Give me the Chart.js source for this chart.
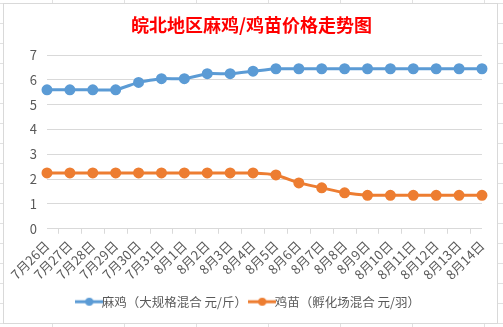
<!DOCTYPE html>
<html lang="zh">
<head>
<meta charset="UTF-8">
<title>皖北地区麻鸡/鸡苗价格走势图</title>
<script src="https://cdn.jsdelivr.net/npm/chart.js"></script>
<style>
html, body {
	margin: 0;
	padding: 0;
	width: 503px;
	height: 327px;
	overflow: hidden;
	background-color: #fff;
	background-image:
		linear-gradient(to right, #e1e1e1 1px, transparent 1px),
		linear-gradient(to bottom, #e1e1e1 1px, transparent 1px);
	background-size: 72px 20px;
	background-position: 52px 3px;
}

.chartBox {
	position: absolute;
	left: 3px;
	top: 3px;
	width: 493px;
	height: 319px;
	border: 1px solid #d9d9d9;
	background: #fff;
}
</style>
</head>
<body>
	<div class="chartBox">
		<canvas id="priceChart" width="493" height="319"></canvas>
	</div>
	<script>
		const ngay = ['7月26日', '7月27日', '7月28日', '7月29日', '7月30日', '7月31日',
			'8月1日', '8月2日', '8月3日', '8月4日', '8月5日', '8月6日', '8月7日',
			'8月8日', '8月9日', '8月10日', '8月11日', '8月12日', '8月13日', '8月14日'];
		const maJi = [5.6, 5.6, 5.6, 5.6, 5.9, 6.05, 6.05, 6.25, 6.25, 6.35,
			6.45, 6.45, 6.45, 6.45, 6.45, 6.45, 6.45, 6.45, 6.45, 6.45];
		const jiMiao = [2.25, 2.25, 2.25, 2.25, 2.25, 2.25, 2.25, 2.25, 2.25, 2.25,
			2.17, 1.85, 1.65, 1.45, 1.35, 1.35, 1.35, 1.35, 1.35, 1.35];
		const yTicks = [0, 1, 2, 3, 4, 5, 6, 7];

		const fontFamily = '"Noto Sans CJK SC", "Noto Sans", sans-serif';

		// legend marker: short line with a dot in the middle, like Excel
		function legendMarker(color) {
			const c = document.createElement('canvas');
			c.width = 28;
			c.height = 10;
			const g = c.getContext('2d');
			g.strokeStyle = color;
			g.lineWidth = 3;
			g.beginPath();
			g.moveTo(0, 5);
			g.lineTo(28, 5);
			g.stroke();
			g.fillStyle = color;
			g.beginPath();
			g.arc(14, 5, 4, 0, Math.PI * 2);
			g.fill();
			return c;
		}

		const ctx = document.getElementById('priceChart').getContext('2d');
		const myChart = new Chart(ctx, {
			type: 'line',
			data: {
				labels: ngay,
				datasets: [{
					label: '麻鸡（大规格混合 元/斤）',
					data: maJi,
					borderColor: '#5b9bd5',
					backgroundColor: '#5b9bd5',
					borderWidth: 3,
					pointRadius: 4,
					pointHoverRadius: 4,
					tension: 0.15
				}, {
					label: '鸡苗（孵化场混合 元/羽）',
					data: jiMiao,
					borderColor: '#ed7d31',
					backgroundColor: '#ed7d31',
					borderWidth: 3,
					pointRadius: 4,
					pointHoverRadius: 4,
					tension: 0.15
				}]
			},
			options: {
				responsive: false,
				animation: false,
				layout: {
					padding: { left: 9, right: 7, top: 4, bottom: 5 }
				},
				plugins: {
					title: {
						display: true,
						text: '皖北地区麻鸡/鸡苗价格走势图',
						color: '#ff0000',
						font: { family: fontFamily, size: 18, weight: 'bold' },
						padding: { top: 6, bottom: 19.5 }
					},
					legend: {
						position: 'bottom',
						labels: {
							color: '#595959',
							font: { family: fontFamily, size: 12.5 },
							usePointStyle: true,
							padding: 9,
							generateLabels(chart) {
								return chart.data.datasets.map((ds, i) => ({
									text: ds.label,
									fontColor: '#595959',
									pointStyle: legendMarker(ds.borderColor),
									datasetIndex: i,
									hidden: false,
									lineWidth: 0
								}));
							}
						}
					},
					tooltip: { enabled: false }
				},
				scales: {
					x: {
						grid: {
							offset: true,
							drawOnChartArea: false,
							drawTicks: true,
							tickLength: 5,
							color: '#d9d9d9'
						},
						border: { color: '#d9d9d9' },
						ticks: {
							color: '#595959',
							font: { family: fontFamily, size: 13 },
							minRotation: 45,
							maxRotation: 45,
							autoSkip: false,
							padding: 4
						}
					},
					y: {
						min: 0,
						max: 7,
						afterBuildTicks(axis) {
							axis.ticks = yTicks.map(v => ({ value: v }));
						},
						afterFit(axis) {
							axis.width = 34;
						},
						grid: {
							color: '#d9d9d9',
							drawTicks: false
						},
						border: { display: false },
						ticks: {
							color: '#595959',
							font: { family: fontFamily, size: 13 },
							padding: 10
						}
					}
				}
			}
		});
	</script>
</body>
</html>
